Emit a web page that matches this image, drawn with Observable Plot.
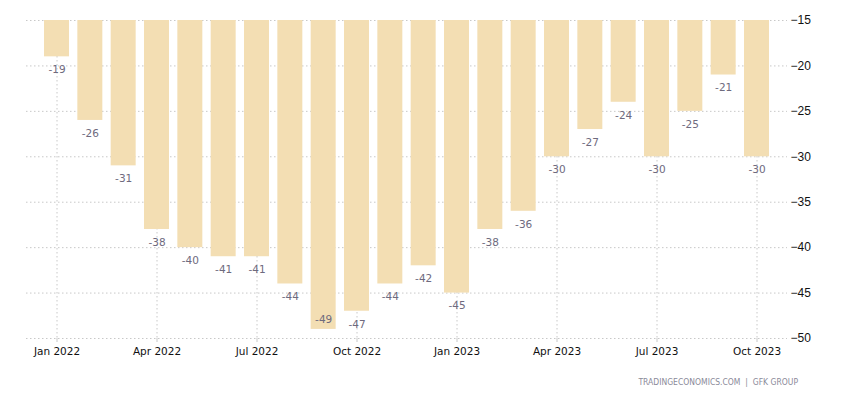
<!DOCTYPE html>
<html>
<head>
<meta charset="utf-8">
<script src="https://cdn.jsdelivr.net/npm/d3@7"></script>
<script src="https://cdn.jsdelivr.net/npm/@observablehq/plot@0.6"></script>
<style>
  html, body { margin: 0; padding: 0; background: #fff; }
  #wrap { position: relative; width: 850px; height: 400px; font-family: "DejaVu Sans", Verdana, sans-serif; }
  #caption { position: absolute; right: 52px; top: 377px; font-size: 8.5px; color: #8a8a99; font-family: "DejaVu Sans Condensed", "DejaVu Sans", sans-serif; white-space: nowrap; }
</style>
</head>
<body>
<div id="wrap">
  <div id="chart"></div>
  <div id="caption">TRADINGECONOMICS.COM &nbsp;|&nbsp; GFK GROUP</div>
</div>
<script>
const months = ["2022-01","2022-02","2022-03","2022-04","2022-05","2022-06","2022-07","2022-08","2022-09","2022-10","2022-11","2022-12",
                "2023-01","2023-02","2023-03","2023-04","2023-05","2023-06","2023-07","2023-08","2023-09","2023-10"];
const values = [-19,-26,-31,-38,-40,-41,-41,-44,-49,-47,-44,-42,-45,-38,-36,-30,-27,-24,-30,-25,-21,-30];
const yTicks = [-15,-20,-25,-30,-35,-40,-45,-50];
const xTickMonths = ["2022-01","2022-04","2022-07","2022-10","2023-01","2023-04","2023-07","2023-10"];

const data = months.map((m, i) => ({month: m, value: values[i]}));
const fmt = d3.utcFormat("%b %Y");
const parse = d3.utcParse("%Y-%m");
const yMin = -50;

const chart = Plot.plot({
  width: 850,
  height: 400,
  marginTop: 20,
  marginBottom: 62,
  marginLeft: 26,
  marginRight: 63,
  style: {fontFamily: "DejaVu Sans, Verdana, sans-serif", fontSize: "11px", background: "#fff"},
  x: {type: "band", domain: months, paddingInner: 0.25, paddingOuter: 0.54, round: false, label: null},
  y: {domain: [yMin, -15], label: null},
  marks: [
    Plot.ruleY(yTicks, {stroke: "#c8c8c8", strokeDasharray: "1.5,2.5"}),
    Plot.ruleX(xTickMonths, {x: d => d, stroke: "#c8c8c8", strokeDasharray: "1.5,2.5"}),
    Plot.barY(data, {x: "month", y1: -15, y2: "value", fill: "#f3deb3"}),
    Plot.text(data.filter(d => d.value > yMin + 2), {x: "month", y: "value", text: d => String(d.value), dy: 13, fill: "#6e6a7e", fontSize: 10.5}),
    Plot.text(data.filter(d => d.value <= yMin + 2), {x: "month", y: "value", text: d => String(d.value), dy: -10, fill: "#6e6a7e", fontSize: 10.5}),
    Plot.axisY(yTicks, {anchor: "right", tickSize: 0, tickPadding: 3, fill: "#111", fontSize: 12, fontFamily: "Liberation Sans, Arial, sans-serif", label: null}),
    Plot.axisX(xTickMonths, {anchor: "bottom", tickSize: 4, tickPadding: 5, stroke: "#c8c8c8", fill: "#111", fontSize: 10.5,
      tickFormat: d => fmt(parse(d)), label: null})
  ]
});
document.getElementById("chart").appendChild(chart);
</script>
</body>
</html>
